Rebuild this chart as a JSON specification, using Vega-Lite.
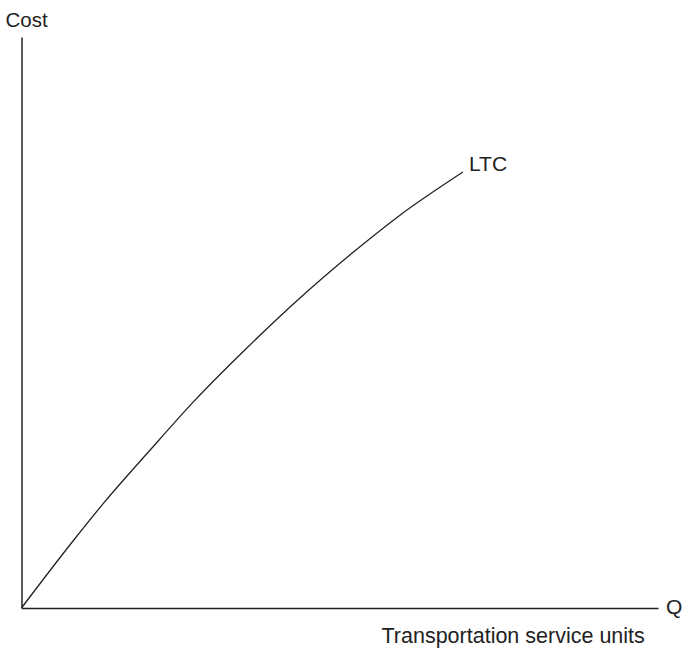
{
  "$schema": "https://vega.github.io/schema/vega-lite/v6.json",
  "autosize": {"type": "none"},
  "width": 636.5,
  "height": 571,
  "padding": {"left": 21.5, "top": 37, "right": 25, "bottom": 43},
  "background": "white",
  "config": {
    "view": {"stroke": null},
    "font": "Liberation Sans"
  },
  "datasets": {
    "curve": [
      {"q": 0, "cost": 0},
      {"q": 8, "cost": 11.6},
      {"q": 13, "cost": 18.5},
      {"q": 20, "cost": 27.4},
      {"q": 27.26, "cost": 36.4},
      {"q": 35, "cost": 45.1},
      {"q": 43.75, "cost": 54.3},
      {"q": 52, "cost": 62.2},
      {"q": 59.46, "cost": 68.8},
      {"q": 69.36, "cost": 76.36}
    ],
    "labels": [
      {"q": 70.3, "cost": 77.67, "label": "LTC"},
      {"q": 101.26, "cost": 0, "label": "Q"}
    ]
  },
  "layer": [
    {
      "data": {"name": "curve"},
      "mark": {"type": "line", "interpolate": "monotone", "color": "#222222", "strokeWidth": 1.3},
      "encoding": {
        "x": {
          "field": "q", "type": "quantitative",
          "scale": {"domain": [0, 100], "nice": false, "zero": false},
          "axis": {
            "domain": true, "domainColor": "#222222", "domainWidth": 1.5,
            "ticks": false, "labels": false, "grid": false,
            "title": "Transportation service units",
            "titleFont": "Liberation Sans", "titleFontSize": 21.5, "titleFontWeight": "normal",
            "titleColor": "#222222", "titleAlign": "left", "titleAnchor": null,
            "titleBaseline": "alphabetic", "titleX": 359.5, "titleY": 34
          }
        },
        "y": {
          "field": "cost", "type": "quantitative",
          "scale": {"domain": [0, 100], "nice": false, "zero": false},
          "axis": {
            "domain": true, "domainColor": "#222222", "domainWidth": 1.5,
            "ticks": false, "labels": false, "grid": false,
            "title": "Cost",
            "titleFont": "Liberation Sans", "titleFontSize": 20.5, "titleFontWeight": "normal",
            "titleColor": "#222222", "titleAngle": 0, "titleAlign": "left", "titleAnchor": null,
            "titleBaseline": "alphabetic", "titleX": -16.5, "titleY": -11
          }
        }
      }
    },
    {
      "data": {"name": "labels"},
      "mark": {"type": "text", "align": "left", "baseline": "middle", "font": "Liberation Sans", "fontSize": 21, "color": "#222222"},
      "encoding": {
        "x": {"field": "q", "type": "quantitative"},
        "y": {"field": "cost", "type": "quantitative"},
        "text": {"field": "label"}
      }
    }
  ]
}
